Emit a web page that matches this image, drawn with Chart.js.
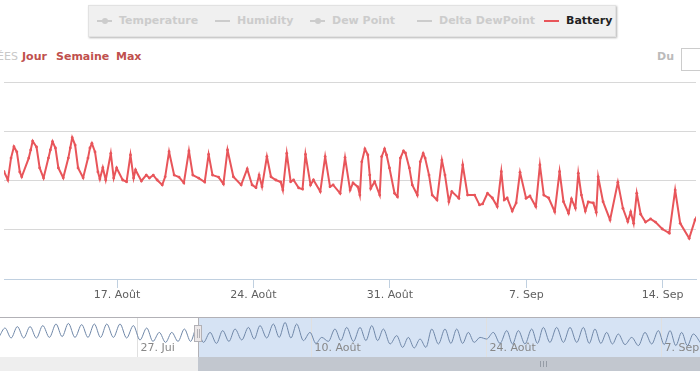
<!DOCTYPE html>
<html lang="fr">
<head>
<meta charset="UTF-8">
<title>Battery</title>
<script src="https://cdn.jsdelivr.net/npm/chart.js"></script>
<style>
    body {
        margin: 0;
        width: 700px;
        height: 380px;
        overflow: hidden;
        position: relative;
        background: #fff;
        font-family: "DejaVu Sans", sans-serif;
    }

    /* Legend box (series toggles) */
    .legend {
        position: absolute;
        left: 88px;
        top: 5px;
        width: 526px;
        height: 30px;
        background: #f0f0f0;
        border: 1px solid #e2e2e2;
        box-shadow: 1px 1px 2px rgba(0, 0, 0, 0.3);
    }
    .item {
        position: absolute;
        top: 0;
        height: 30px;
        line-height: 30px;
        font-weight: bold;
        font-size: 11px;
        color: #ccc;
        white-space: nowrap;
    }
    .item.on { color: #222; }
    .sym {
        display: inline-block;
        position: relative;
        width: 15px;
        height: 2px;
        margin-right: 7px;
        vertical-align: middle;
        background: #ccc;
    }
    .sym.dot::after {
        content: '';
        position: absolute;
        left: 5px;
        top: -2px;
        width: 6px;
        height: 6px;
        border-radius: 50%;
        background: #ccc;
    }

    /* Range selector */
    .rs {
        position: absolute;
        top: 50px;
        font-size: 11px;
        font-weight: bold;
        color: #c0504d;
    }
    .rs.zoom {
        right: 682px;
        color: #c8c8c8;
        font-weight: normal;
    }
    .du {
        position: absolute;
        left: 657px;
        top: 50px;
        font-size: 11px;
        font-weight: bold;
        color: #bbb;
    }
    .input {
        position: absolute;
        left: 681px;
        top: 48px;
        width: 40px;
        height: 21px;
        border: 1px solid #ccc;
        background: #fff;
    }

    canvas { position: absolute; left: 0; }
    #main { top: 0; }
    #nav { top: 300px; }
</style>
</head>
<body>
<div class="legend" id="legend"></div>

<span class="rs zoom">DONNÉES</span>
<span class="rs" style="left:22px">Jour</span>
<span class="rs" style="left:56px">Semaine</span>
<span class="rs" style="left:116px">Max</span>
<span class="du">Du</span>
<div class="input"></div>

<canvas id="main" width="700" height="300"></canvas>
<canvas id="nav" width="700" height="80"></canvas>

<script>
    // days are counted from 31 July (0) : 17 = 17 Aug, 38 = 7 Sep
    const seriesNames = ["Temperature", "Humidity", "Dew Point", "Delta DewPoint", "Battery"];
    const seriesOn = [false, false, false, false, true];
    const seriesDot = [true, false, true, false, false];
    const legendLeft = [8, 126, 221, 328, 455];

    const axisTicks = [17, 24, 31, 38, 45];
    const navTicks = [-4, 10, 24, 38];

    const viewFrom = 11.2, viewTo = 46.71;   // main chart range
    const navMin = -14.96, navMax = 41.15;   // navigator range
    const navFrom = 0.91;                    // left edge of selection mask

    const batteryDay = [
        11.05, 11.20, 11.40, 11.56, 11.71, 11.86, 12.01, 12.11, 12.47, 12.57, 12.67, 12.87, 13.03, 13.23,
        13.48, 13.58, 13.69, 13.84, 13.99, 14.24, 14.50, 14.60, 14.70, 14.85, 15.00, 15.26, 15.51, 15.61,
        15.71, 15.87, 16.02, 16.12, 16.27, 16.42, 16.68, 16.83, 16.98, 17.29, 17.49, 17.69, 17.85, 17.95,
        18.25, 18.50, 18.66, 18.86, 19.06, 19.32, 19.47, 19.67, 19.93, 20.18, 20.43, 20.69, 20.89, 21.19,
        21.50, 21.70, 21.90, 22.21, 22.46, 22.67, 22.97, 23.37, 23.68, 23.93, 24.13, 24.29, 24.44, 24.69,
        24.90, 25.15, 25.40, 25.51, 25.71, 25.91, 26.06, 26.32, 26.52, 26.67, 26.93, 27.08, 27.43, 27.68,
        27.93, 28.09, 28.45, 28.70, 28.96, 29.11, 29.36, 29.46, 29.56, 29.72, 29.87, 29.97, 30.02, 30.22,
        30.48, 30.58, 30.73, 30.83, 30.98, 31.24, 31.39, 31.54, 31.70, 31.80, 32.00, 32.15, 32.41, 32.56,
        32.71, 32.81, 33.01, 33.17, 33.42, 33.67, 33.83, 34.03, 34.18, 34.54, 34.74, 34.99, 35.35, 35.60,
        35.76, 36.01, 36.26, 36.51, 36.72, 36.87, 37.02, 37.28, 37.48, 37.68, 37.99, 38.19, 38.49, 38.70,
        38.90, 39.15, 39.46, 39.71, 39.91, 40.17, 40.32, 40.52, 40.67, 40.83, 41.03, 41.18, 41.44, 41.59,
        41.69, 41.94, 42.30, 42.70, 42.96, 43.21, 43.36, 43.51, 43.67, 43.87, 44.12, 44.38, 44.63, 44.98,
        45.34, 45.64, 45.90, 46.36, 46.66, 46.85
    ];
    const batteryVolt = [
        3.030, 3.036, 3.002, 3.091, 3.137, 3.116, 3.035, 3.015, 3.091, 3.124, 3.160, 3.136, 3.051, 3.010,
        3.091, 3.124, 3.158, 3.132, 3.051, 3.011, 3.091, 3.132, 3.174, 3.144, 3.051, 3.011, 3.091, 3.132,
        3.151, 3.116, 3.035, 3.006, 3.052, 3.002, 3.110, 3.010, 3.051, 3.002, 2.995, 3.104, 3.010, 3.043,
        2.998, 3.022, 3.010, 3.022, 3.002, 2.982, 3.015, 3.117, 3.022, 3.014, 2.990, 3.120, 3.022, 3.010,
        2.994, 3.106, 3.022, 3.014, 2.986, 3.124, 3.015, 2.982, 3.047, 2.982, 2.971, 3.022, 2.975, 3.097,
        3.015, 3.002, 2.994, 2.961, 3.110, 2.995, 3.002, 2.970, 2.965, 3.106, 2.982, 3.002, 2.955, 3.097,
        2.975, 2.982, 2.948, 3.093, 2.961, 2.990, 2.974, 2.941, 3.076, 3.128, 3.104, 3.022, 2.968, 2.995,
        2.941, 3.097, 3.128, 3.104, 3.051, 2.948, 2.934, 3.091, 3.120, 3.112, 3.051, 2.982, 2.941, 3.076,
        3.110, 3.091, 3.022, 2.941, 2.921, 3.083, 3.022, 2.914, 2.955, 2.928, 3.063, 2.941, 2.941, 2.901,
        2.905, 2.948, 2.929, 2.894, 3.036, 2.921, 2.929, 2.876, 2.909, 3.033, 2.928, 2.937, 2.894, 3.063,
        2.941, 2.929, 2.873, 3.036, 2.914, 2.867, 2.925, 2.888, 3.029, 2.941, 2.876, 2.913, 2.909, 2.871,
        3.015, 2.914, 2.840, 2.993, 2.887, 2.833, 2.872, 2.826, 2.948, 2.863, 2.831, 2.844, 2.831, 2.803,
        2.786, 2.961, 2.826, 2.765, 2.840, 2.870
    ];

    // navigator shows the temperature series
    const navDay = [
        -15.00, -14.56, -14.07, -13.57, -13.06, -12.55, -12.04, -11.53, -11.00, -10.47, -9.98, -9.48,
        -8.95, -8.41, -7.91, -7.40, -6.90, -6.40, -5.87, -5.34, -4.81, -4.27, -3.74, -3.20, -2.70, -2.19,
        -1.69, -1.19, -0.69, -0.18, 0.32, 0.81, 1.35, 1.88, 2.39, 2.89, 3.39, 3.88, 4.42, 4.95, 5.42, 5.88,
        6.42, 6.95, 7.42, 7.89, 8.36, 8.82, 9.36, 9.89, 10.36, 10.83, 11.36, 11.89, 12.36, 12.83, 13.37,
        13.90, 14.37, 14.84, 15.31, 15.77, 16.31, 16.84, 17.31, 17.77, 18.24, 18.71, 19.18, 19.65, 20.18,
        20.71, 21.18, 21.65, 22.12, 22.58, 23.05, 23.52, 24.05, 24.58, 25.12, 25.66, 26.12, 26.59, 27.12,
        27.66, 28.12, 28.59, 29.12, 29.66, 30.20, 30.73, 31.27, 31.80, 32.27, 32.73, 33.20, 33.67, 34.13,
        34.60, 35.14, 35.68, 36.21, 36.74, 37.28, 37.81, 38.28, 38.75, 39.21, 39.68, 40.14, 40.61, 41.20
    ];
    const navTemp = [
        22.0, 26.0, 21.0, 26.7, 21.0, 26.7, 21.0, 27.2, 21.3, 28.0, 21.7, 28.3,
        21.3, 27.7, 21.3, 28.0, 21.3, 28.0, 21.3, 28.0, 21.0, 27.2, 20.0, 26.0, 19.3, 23.8,
        18.8, 23.8, 19.3, 25.5, 19.3, 26.3, 18.8, 23.8, 18.3, 24.7, 19.3, 25.5, 20.0, 26.3, 20.5, 27.2,
        21.0, 28.0, 21.3, 28.8, 21.0, 28.0, 19.7, 23.8, 18.3, 21.3, 19.3, 25.5, 19.7, 26.3, 19.3,
        26.3, 19.7, 27.2, 19.7, 25.5, 18.0, 22.2, 16.3, 21.3, 16.0, 20.5, 16.3, 25.5, 18.0,
        25.5, 18.3, 25.5, 18.3, 23.8, 18.8, 21.3, 20.5, 23.8, 18.3, 24.7, 18.0, 24.7, 18.0,
        25.5, 18.3, 26.3, 18.8, 26.3, 18.8, 26.3, 18.8, 26.3, 18.3, 25.5, 18.3, 23.8, 18.0,
        23.0, 17.7, 21.3, 17.2, 23.8, 18.0, 24.7, 17.7, 24.7, 17.2, 23.8, 17.2, 23.0, 18.5
    ];

    function dayLabel(d) {
        if (d <= 0) return (d + 31) + ". Jui";
        if (d <= 31) return d + ". Août";
        return (d - 31) + ". Sep";
    }

    // legend
    const legend = document.getElementById("legend");
    seriesNames.forEach((name, i) => {
        const el = document.createElement("span");
        el.className = "item" + (seriesOn[i] ? " on" : "");
        el.style.left = legendLeft[i] + "px";
        const col = seriesOn[i] ? "#e8555a" : "#ccc";
        el.innerHTML = '<span class="sym' + (seriesDot[i] ? ' dot' : '') + '" style="background:' + col + '"></span>' + name;
        legend.appendChild(el);
    });

    Chart.defaults.font.family = '"DejaVu Sans", sans-serif';

    const mainChart = new Chart(document.getElementById("main"), {
        type: "line",
        data: {
            datasets: [{
                label: "Battery",
                data: batteryDay.map((d, i) => ({ x: d, y: batteryVolt[i] })),
                borderColor: "#e8555a",
                backgroundColor: "#e8555a",
                borderWidth: 2,
                pointRadius: 1.4,
                pointBorderWidth: 0,
                tension: 0
            }]
        },
        options: {
            responsive: false,
            animation: false,
            layout: { padding: { top: 82, left: 0, right: 0, bottom: 0 } },
            plugins: { legend: { display: false }, tooltip: { enabled: false } },
            scales: {
                x: {
                    type: "linear",
                    min: viewFrom,
                    max: viewTo,
                    afterBuildTicks: axis => { axis.ticks = axisTicks.map(v => ({ value: v })); },
                    afterFit: axis => { axis.height = 21; },
                    ticks: {
                        callback: v => dayLabel(v),
                        color: "#606060",
                        font: { size: 11 },
                        padding: 1,
                        maxRotation: 0,
                        autoSkip: false
                    },
                    grid: { drawOnChartArea: false, tickLength: 9, color: "#C0D0E0" },
                    border: { color: "#C0D0E0" }
                },
                y: {
                    min: 2.6,
                    max: 3.4,
                    ticks: { stepSize: 0.2, display: false },
                    grid: { color: "#d8d8d8", drawTicks: false },
                    border: { display: false }
                }
            }
        }
    });

    // navigator decorations: mask, grid, labels, handle, scrollbar
    const navDecor = {
        id: "navDecor",
        beforeDatasetsDraw(chart) {
            const { ctx, chartArea: a, scales: { x } } = chart;
            const m = Math.round(x.getPixelForValue(navFrom));
            ctx.save();
            ctx.fillStyle = "rgba(91,143,211,0.25)";
            ctx.fillRect(m, a.top, a.right - m, a.bottom - a.top);
            ctx.strokeStyle = "#e0e0e0";
            ctx.lineWidth = 1;
            ctx.font = '11px "DejaVu Sans"';
            ctx.fillStyle = "#888";
            ctx.textBaseline = "middle";
            navTicks.forEach(v => {
                const px = Math.round(x.getPixelForValue(v)) + 0.5;
                ctx.beginPath();
                ctx.moveTo(px, a.top);
                ctx.lineTo(px, a.bottom);
                ctx.stroke();
                ctx.fillText(dayLabel(v), px + 3, a.top + 31);
            });
            ctx.restore();
        },
        afterDatasetsDraw(chart) {
            const { ctx, chartArea: a, scales: { x } } = chart;
            const m = Math.round(x.getPixelForValue(navFrom));
            ctx.save();
            // outline
            ctx.strokeStyle = "#b2b1b6";
            ctx.lineWidth = 1;
            ctx.beginPath();
            ctx.moveTo(a.left, a.top + 0.5);
            ctx.lineTo(a.right, a.top + 0.5);
            ctx.moveTo(m + 0.5, a.top);
            ctx.lineTo(m + 0.5, a.bottom);
            ctx.stroke();
            // scrollbar
            ctx.fillStyle = "#eeeeee";
            ctx.fillRect(a.left, a.bottom, m - a.left, 14);
            ctx.fillStyle = "#c2c7cf";
            ctx.fillRect(m, a.bottom, a.right - m, 14);
            ctx.strokeStyle = "#959ca6";
            ctx.beginPath();
            [-3, 0, 3].forEach(dx => {
                ctx.moveTo(543.5 + dx, a.bottom + 4);
                ctx.lineTo(543.5 + dx, a.bottom + 10);
            });
            ctx.stroke();
            // handle
            ctx.fillStyle = "#ebe7e8";
            ctx.strokeStyle = "#b2b1b6";
            ctx.fillRect(m - 4, a.top + 8, 8, 17);
            ctx.strokeRect(m - 3.5, a.top + 8.5, 7, 16);
            ctx.beginPath();
            ctx.moveTo(m - 0.5, a.top + 12);
            ctx.lineTo(m - 0.5, a.top + 21);
            ctx.moveTo(m + 1.5, a.top + 12);
            ctx.lineTo(m + 1.5, a.top + 21);
            ctx.stroke();
            ctx.restore();
        }
    };

    const navChart = new Chart(document.getElementById("nav"), {
        type: "line",
        data: {
            datasets: [{
                label: "Temperature",
                data: navDay.map((d, i) => ({ x: d, y: navTemp[i] })),
                borderColor: "#6f87a8",
                borderWidth: 1,
                pointRadius: 0,
                cubicInterpolationMode: "monotone"
            }]
        },
        options: {
            responsive: false,
            animation: false,
            layout: { padding: { top: 17, bottom: 23, left: 0, right: 0 } },
            plugins: { legend: { display: false }, tooltip: { enabled: false } },
            scales: {
                x: { type: "linear", display: false, min: navMin, max: navMax },
                y: { display: false, min: 11.5, max: 31.5 }
            }
        },
        plugins: [navDecor]
    });
</script>
</body>
</html>
